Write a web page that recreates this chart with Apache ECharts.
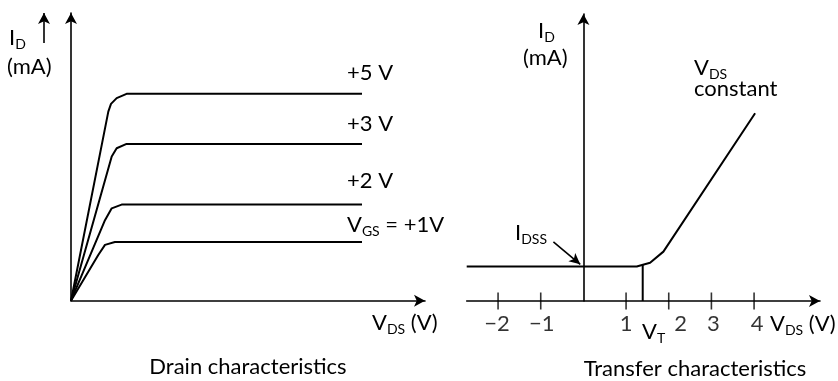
<!DOCTYPE html>
<html><head><meta charset="utf-8">
<script src="https://cdn.jsdelivr.net/npm/echarts@6/dist/echarts.min.js"></script>
<style>html,body{margin:0;padding:0;background:#fff}#c{width:838px;height:381px}</style>
</head><body><div id="c"></div>
<script>
// ---- Drain characteristics (left), [VDS, ID] in relative units ----
const vgsLabels = ['+5 V', '+3 V', '+2 V', 'V_GS = +1V'];
const drain5 = [[0,0],[1.054,6.57],[1.13,6.84],[1.29,7.04],[1.57,7.19],[8.22,7.19]];
const drain3 = [[0,0],[1.15,5.01],[1.29,5.30],[1.57,5.45],[8.22,5.45]];
const drain2 = [[0,0],[0.96,2.80],[1.15,3.21],[1.43,3.34],[8.22,3.34]];
const drain1 = [[0,0],[0.77,1.59],[0.96,1.94],[1.24,2.04],[8.22,2.04]];
// ---- Transfer characteristic (right), [V, ID] ----
const transfer = [[-2.735,1.2],[1.25,1.2],[1.563,1.33],[1.875,1.72],[4.024,6.54]];
const vtLine = [[1.39,0],[1.39,1.26]];
const idssArrow = [[-0.703,2.06],[-0.074,1.28]];
const tickValues = [-2,-1,1,2,3,4];
const tickLabels = ['\u22122','\u22121','1','2','3','4'];

const FONT = 'Lato';
const labelShift = [-1, 1, 0, 12, 2, 3];
const black = '#000';
const rich = {
  a: {fontSize: 22, fontFamily: FONT, color: black, lineHeight: 26},
  s: {fontSize: 14, fontFamily: FONT, color: black, lineHeight: 14, verticalAlign: 'bottom'}
};
function txt(x, y, text, align) {
  return {type: 'text', x: x, y: y, silent: true,
    style: {text: text, rich: rich, align: align || 'left', verticalAlign: 'middle',
      font: '22px ' + FONT, fill: black}};
}
function sub(t) { // "V_GS = +1V" -> rich
  const m = t.match(/^(.*?)_([A-Z]+)(.*)$/);
  if (!m) return '{a|' + t + '}';
  return '{a|' + m[1] + '}{s|' + m[2] + '}' + (m[3] ? '{a|' + m[3] + '}' : '');
}

const axisLineStyle = {color: black, width: 1.6};
function axis(extra) {
  return Object.assign({type: 'value', axisTick: {show: false}, axisLabel: {show: false},
    splitLine: {show: false},
    axisLine: {show: true, symbol: ['none', 'arrow'], symbolSize: [9, 11], lineStyle: axisLineStyle}}, extra);
}
const lineSeries = (data, xi) => ({type: 'line', data: data, xAxisIndex: xi, yAxisIndex: xi,
  symbol: 'none', silent: true, animation: false,
  lineStyle: {color: black, width: 2}});

const chart = echarts.init(document.getElementById('c'));
const s5 = lineSeries(drain5, 0);
s5.markLine = {silent: true, symbol: ['none', 'arrow'], symbolSize: [9, 11], label: {show: false},
  lineStyle: {color: black, width: 1.6, type: 'solid'},
  data: [[{x: 44, y: 43}, {x: 44, y: 13}]]};
const sT = lineSeries(transfer, 1);
sT.markLine = {silent: true, symbol: ['none', 'arrow'], symbolSize: [8, 11], label: {show: false},
  lineStyle: {color: black, width: 1.6, type: 'solid'},
  data: [[{coord: idssArrow[0]}, {coord: idssArrow[1]}]]};

chart.setOption({
  animation: false,
  grid: [
    {left: 71, top: 13, width: 354, height: 287.7},
    {left: 466.7, top: 14, width: 353.3, height: 287}
  ],
  xAxis: [
    axis({gridIndex: 0, min: 0, max: 10}),
    axis({gridIndex: 1, min: -2.735, max: 5.545})
  ],
  yAxis: [
    axis({gridIndex: 0, min: 0, max: 10}),
    axis({gridIndex: 1, min: 0, max: 10})
  ],
  series: [
    s5, lineSeries(drain3, 0), lineSeries(drain2, 0), lineSeries(drain1, 0),
    sT, lineSeries(vtLine, 1),
    {type: 'scatter', xAxisIndex: 1, yAxisIndex: 1, silent: true, symbol: 'rect',
      symbolSize: [1.6, 17], itemStyle: {color: black},
      label: {show: true, position: 'bottom', distance: 3, fontSize: 22, fontFamily: FONT, color: black},
      data: tickValues.map((v, i) => ({value: [v, 0],
        label: {formatter: tickLabels[i], offset: [labelShift[i], 0]}}))}
  ],
  graphic: [
    txt(9, 38, sub('I_D')),
    txt(7, 67, '(mA)'),
    txt(538, 31, sub('I_D')),
    txt(523, 58, '(mA)'),
    txt(347, 73, sub(vgsLabels[0])),
    txt(347, 124, sub(vgsLabels[1])),
    txt(347, 181, sub(vgsLabels[2])),
    txt(347, 225, sub(vgsLabels[3])),
    txt(372, 323, sub('V_DS') + '{a| (V)}'),
    txt(770, 324, sub('V_DS') + '{a| (V)}'),
    txt(642, 332, sub('V_T')),
    txt(694, 68, sub('V_DS')),
    txt(694, 89, 'constant'),
    txt(515, 233, sub('I_DSS')),
    txt(248, 367, 'Drain characteristics', 'center'),
    txt(695, 369, 'Transfer characteristics', 'center')
  ]
});
</script></body></html>
